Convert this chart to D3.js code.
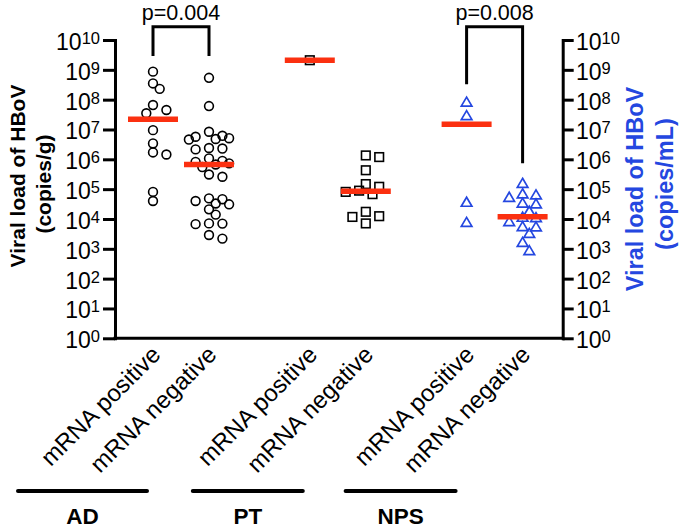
<!DOCTYPE html>
<html><head><meta charset="utf-8">
<script src="https://cdn.jsdelivr.net/npm/d3@7"></script>
<style>
body{margin:0;background:#fff}
svg{display:block}
text{font-family:"Liberation Sans",Arial,Helvetica,sans-serif}
</style>
</head><body>
<svg id="chart" width="680" height="529"></svg>
<script>
// ---------- data ----------
const groups = ["AD", "PT", "NPS"];
const categoryLabels = ["mRNA positive", "mRNA negative", "mRNA positive", "mRNA negative", "mRNA positive", "mRNA negative"];
const categoryGroup = ["AD", "AD", "PT", "PT", "NPS", "NPS"];
const categoryShape = ["circle", "circle", "square", "square", "triangle", "triangle"];

const adPositive = [8.7e8, 3.5e8, 2.3e8, 6.6e7, 4.5e7, 3.5e7, 9.5e6, 3.4e6, 1.7e6, 1.45e6, 8.1e4, 4.0e4];
const adNegative = [5.4e8, 6.1e7, 8.4e6, 6.15e6, 5.7e6, 5.1e6, 4.8e6, 4.6e6, 2.4e6, 2.3e6, 2.15e6, 1.07e6,
                    8.9e5, 8.2e5, 7.3e5, 6.7e5, 5.5e5, 3.1e5, 2.6e5, 4.9e4, 4.6e4, 4.0e4, 3.3e4, 3.1e4,
                    2.1e4, 1.4e4, 7.1e3, 7.0e3, 6.7e3, 2.9e3, 2.2e3];
const ptPositive = [2.1e9];
const ptNegative = [1.35e6, 1.19e6, 4.3e5, 1.48e5, 1.2e5, 8.9e4, 8.1e4, 6.8e4, 1.74e4, 1.24e4, 1.17e4, 7.1e3];
const npsPositive = [8.5e7, 3.0e7, 3.75e4, 7.9e3];
const npsNegative = [1.62e5, 7.2e4, 6.6e4, 5.5e4, 3.5e4, 3.3e4, 1.87e4, 1.18e4, 1.15e4, 8.4e3, 5.7e3, 5.6e3, 3.4e3, 1.7e3, 9.0e2];
const seriesValues = [adPositive, adNegative, ptPositive, ptNegative, npsPositive, npsNegative];

const tickValues = [1, 1e1, 1e2, 1e3, 1e4, 1e5, 1e6, 1e7, 1e8, 1e9, 1e10];
const tickExponents = ["0", "1", "2", "3", "4", "5", "6", "7", "8", "9", "10"];

const leftTitle = ["Viral load of HBoV", "(copies/g)"];
const rightTitle = ["Viral load of HBoV", "(copies/mL)"];

// significance brackets: category indices, label, leg end values, top value
const brackets = [
  {a: 0, b: 1, label: "p=0.004", legA: 2.9e9, legB: 2.9e9, top: 2.8e10},
  {a: 4, b: 5, label: "p=0.008", legA: 3.3e8, legB: 7.4e5, top: 2.8e10}
];

// ---------- layout ----------
const svg = d3.select("#chart");
const BLUE = "#2447e0";
const RED = "#fb3010";

const y = d3.scaleLog().domain([1, 1e10]).range([338.3, 40]);
const slots = [0, 1, 2.8, 3.8, 5.6, 6.6];
const x = d3.scaleLinear().domain([0, 6.6]).range([153, 522.6]);
const axisLeftX = 115, axisRightX = 562.7;

// axes
const gL = svg.append("g").attr("transform", `translate(${axisLeftX},0)`)
  .call(d3.axisLeft(y).tickValues(tickValues).tickSize(12).tickSizeOuter(0).tickFormat(""));
const gR = svg.append("g").attr("transform", `translate(${axisRightX},0)`)
  .call(d3.axisRight(y).tickValues(tickValues).tickSize(11).tickSizeOuter(0).tickFormat(""));
[gL, gR].forEach(g => {
  g.selectAll("path.domain").attr("stroke", "#000").attr("stroke-width", 3).attr("stroke-linecap", "square");
  g.selectAll(".tick line").attr("stroke", "#000").attr("stroke-width", 3);
});
// bottom line
svg.append("line").attr("x1", axisLeftX).attr("x2", axisRightX)
  .attr("y1", y(1)).attr("y2", y(1)).attr("stroke", "#000").attr("stroke-width", 3).attr("stroke-linecap", "square");

// tick labels
function tickLabel(sel, xPos, anchor) {
  tickValues.forEach((v, i) => {
    const t = sel.append("text").attr("x", xPos).attr("y", y(v) + 10)
      .attr("text-anchor", anchor).attr("fill", "#000");
    t.append("tspan").attr("font-size", 23).text("10");
    t.append("tspan").attr("font-size", 16.5).attr("dy", -6).text(tickExponents[i]);
  });
}
tickLabel(svg.append("g"), 100, "end");
tickLabel(svg.append("g"), 576, "start");

// axis titles
function title(lines, cx, cys, size, color) {
  lines.forEach((ln, i) => {
    svg.append("text").attr("transform", `translate(${cx[i]},${cys[i]}) rotate(-90)`)
      .attr("text-anchor", "middle").attr("dominant-baseline", "central")
      .attr("font-size", size).attr("font-weight", "bold").attr("fill", color).text(ln);
  });
}
title(leftTitle, [17, 43], [176, 184], 21, "#000");
title(rightTitle, [635, 665], [189, 184], 23.5, BLUE);

// swarm layout (deterministic), width limited to +-maxK steps
function swarm(values, D, s, maxK) {
  const pts = values.map(v => ({v, py: y(v)})).sort((a, b) => a.py - b.py);
  const placed = [];
  const cands = [0];
  for (let k = 1; k <= maxK; k++) cands.push(k * s, -k * s);
  pts.forEach(p => {
    let best = null, bestD = -1;
    for (const off of cands) {
      const dmin = placed.length ? d3.min(placed, q => Math.hypot(q.x - off, q.y - p.py)) : Infinity;
      if (dmin >= D) { best = off; break; }
      if (dmin > bestD) { bestD = dmin; best = off; }
    }
    p.dx = best; placed.push({x: best, y: p.py});
  });
  return pts;
}

const tri = "M0,-4.6L5.3,4.4L-5.3,4.4Z";
const pointsG = svg.append("g");
seriesValues.forEach((vals, ci) => {
  const cx = x(slots[ci]);
  const pts = swarm(vals, 8.5, 6.7, 3);
  const g = pointsG.append("g");
  const shape = categoryShape[ci];
  pts.forEach(p => {
    const px = cx + p.dx, py = p.py;
    if (shape === "circle") {
      g.append("circle").attr("cx", px).attr("cy", py).attr("r", 4.4)
        .attr("fill", "none").attr("stroke", "#000").attr("stroke-width", 1.6);
    } else if (shape === "square") {
      g.append("rect").attr("x", px - 4.3).attr("y", py - 4.3).attr("width", 8.6).attr("height", 8.6)
        .attr("fill", "none").attr("stroke", "#000").attr("stroke-width", 1.6);
    } else {
      g.append("path").attr("d", tri).attr("transform", `translate(${px},${py})`)
        .attr("fill", "none").attr("stroke", BLUE).attr("stroke-width", 1.7).attr("stroke-linejoin", "miter");
    }
  });
});

// medians
seriesValues.forEach((vals, ci) => {
  const cx = x(slots[ci]);
  const m = d3.median(vals);
  svg.append("line").attr("x1", cx - 25).attr("x2", cx + 25).attr("y1", y(m)).attr("y2", y(m))
    .attr("stroke", RED).attr("stroke-width", 5.5);
});

// brackets
brackets.forEach(b => {
  const xa = x(slots[b.a]), xb = x(slots[b.b]);
  const yt = y(b.top);
  svg.append("path")
    .attr("d", `M${xa},${y(b.legA)}V${yt}H${xb}V${y(b.legB)}`)
    .attr("fill", "none").attr("stroke", "#000").attr("stroke-width", 3);
  svg.append("text").attr("x", (xa + xb) / 2).attr("y", 19.5).attr("text-anchor", "middle")
    .attr("font-size", 21.5).attr("fill", "#000").text(b.label);
});

// category labels
categoryLabels.forEach((lab, ci) => {
  const cx = x(slots[ci]);
  svg.append("text").attr("transform", `translate(${cx + 9},356) rotate(-45)`)
    .attr("text-anchor", "end").attr("font-size", 24).attr("fill", "#000").text(lab);
});

// group lines and labels
const groupSpan = {AD: [-135, -6], PT: [-117, -7], NPS: [-121, -11]};
groups.forEach(gname => {
  const ci = categoryGroup.indexOf(gname);
  const cx = x(slots[ci]);
  const [l, r] = groupSpan[gname];
  svg.append("line").attr("x1", cx + l).attr("x2", cx + r).attr("y1", 491).attr("y2", 491)
    .attr("stroke", "#000").attr("stroke-width", 4).attr("stroke-linecap", "round");
  svg.append("text").attr("x", cx + (l + r) / 2).attr("y", 524).attr("text-anchor", "middle")
    .attr("font-size", 22.5).attr("font-weight", "bold").attr("fill", "#000").text(gname);
});
</script>
</body></html>
